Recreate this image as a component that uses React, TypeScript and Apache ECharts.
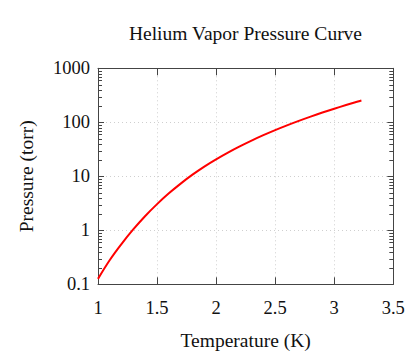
import React, { useEffect, useRef } from "react";
import * as echarts from "echarts";

const temperatures = [1.0, 1.1, 1.2, 1.3, 1.4, 1.5, 1.6, 1.7, 1.8, 1.9, 2.0, 2.1, 2.2, 2.3, 2.4, 2.5, 2.6, 2.7, 2.8, 2.9, 3.0, 3.1, 3.2, 3.23];
const pressures = [0.126, 0.282, 0.562, 1.047, 1.841, 3.055, 4.842, 7.328, 10.72, 15.14, 20.65, 27.54, 35.89, 45.92, 57.81, 71.78, 87.9, 106.4, 127.6, 151.7, 178.6, 208.9, 242.7, 253.5];
const minorTickValues = [0.2, 0.3, 0.4, 0.5, 0.6, 0.7, 0.8, 0.9, 2, 3, 4, 5, 6, 7, 8, 9, 20, 30, 40, 50, 60, 70, 80, 90, 200, 300, 400, 500, 600, 700, 800, 900];

const FONT = "'Liberation Serif', 'DejaVu Serif', serif";
const TEXT = "#111";
const AXIS = "#444";

export default function App() {
  const ref = useRef<HTMLDivElement>(null);
  useEffect(() => {
    if (!ref.current) return;
    const chart = echarts.init(ref.current, undefined, { renderer: "svg" });
    const axisLine = { show: true, lineStyle: { color: AXIS, width: 1 } };
    const tick = { show: true, inside: true, length: 6, lineStyle: { color: AXIS, width: 1 } };
    const split = { show: true, lineStyle: { color: "#cfcfcf", type: [1, 3] as any, width: 1 } };
    const fmt = (v: number) => String(Number(v.toPrecision(3)));
    chart.setOption({
      animation: false,
      backgroundColor: "#fff",
      textStyle: { fontFamily: FONT },
      title: {
        text: "Helium Vapor Pressure Curve",
        left: 245.5,
        textAlign: "center",
        top: 23,
        padding: 0,
        textStyle: { fontFamily: FONT, fontSize: 19.5, fontWeight: "normal", color: TEXT },
      },
      grid: { left: 98, right: 21.7, top: 68.3, bottom: 71.7, containLabel: false },
      xAxis: [
        {
          type: "value",
          min: 1,
          max: 3.5,
          interval: 0.5,
          name: "Temperature (K)",
          nameLocation: "middle",
          nameGap: 46,
          nameTextStyle: { fontFamily: FONT, fontSize: 19.5, color: TEXT },
          axisLine,
          axisTick: { ...tick, length: 7 },
          axisLabel: { fontFamily: FONT, fontSize: 18.5, color: TEXT, margin: 14 },
          splitLine: split,
        },
        {
          type: "value",
          position: "top",
          min: 1,
          max: 3.5,
          interval: 0.5,
          axisLine,
          axisTick: { ...tick, length: 7 },
          axisLabel: { show: false },
          splitLine: { show: false },
        },
      ],
      yAxis: [
        {
          type: "log",
          logBase: 10,
          min: 0.1,
          max: 1000,
          name: "Pressure (torr)",
          nameLocation: "middle",
          nameGap: 62,
          nameTextStyle: { fontFamily: FONT, fontSize: 19.5, color: TEXT },
          axisLine,
          axisTick: tick,
          axisLabel: { fontFamily: FONT, fontSize: 18.5, color: TEXT, margin: 8, formatter: fmt },
          splitLine: split,
        },
        {
          type: "log",
          logBase: 10,
          position: "right",
          min: 0.1,
          max: 1000,
          axisLine,
          axisTick: tick,
          axisLabel: { show: false },
          splitLine: { show: false },
        },
      ],
      series: [
        {
          type: "custom",
          xAxisIndex: 0,
          yAxisIndex: 0,
          silent: true,
          data: minorTickValues.map((v) => [1, v]),
          encode: { x: 0, y: 1 },
          renderItem: (params: any, api: any) => {
            const cs = params.coordSys;
            const y = Math.round(api.coord([1, api.value(1)])[1]) + 0.5;
            const st = { stroke: AXIS, lineWidth: 1 };
            return {
              type: "group",
              children: [
                { type: "line", shape: { x1: cs.x, y1: y, x2: cs.x + 4, y2: y }, style: st },
                { type: "line", shape: { x1: cs.x + cs.width - 4, y1: y, x2: cs.x + cs.width, y2: y }, style: st },
              ],
            };
          },
          z: 3,
        },
        {
          type: "line",
          xAxisIndex: 0,
          yAxisIndex: 0,
          data: temperatures.map((t, i) => [t, pressures[i]]),
          showSymbol: false,
          smooth: 0.4,
          lineStyle: { color: "#ff0000", width: 2 },
          itemStyle: { color: "#ff0000" },
          z: 5,
        },
      ],
    });
    return () => chart.dispose();
  }, []);
  return <div ref={ref} style={{ width: 415, height: 356, marginLeft: -8, marginTop: -8 }} />;
}
